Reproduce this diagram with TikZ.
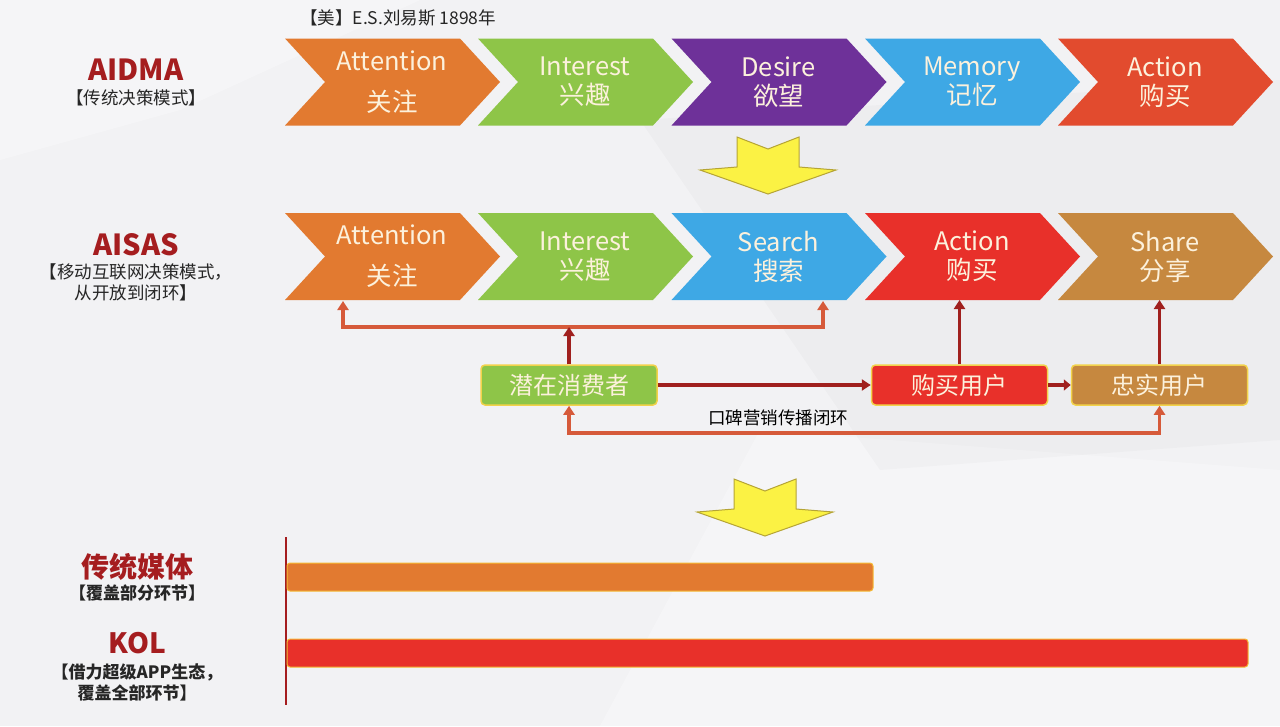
\documentclass[tikz,border=0pt]{standalone}
\usepackage{fontspec}
\setmainfont{Noto Sans CJK SC}
\usetikzlibrary{arrows.meta}
\definecolor{bg}{HTML}{F2F2F4}
\definecolor{corange}{HTML}{E27A30}
\definecolor{cgreen}{HTML}{8EC548}
\definecolor{cpurple}{HTML}{6E3199}
\definecolor{cblue}{HTML}{3EA8E5}
\definecolor{cred1}{HTML}{E24B2E}
\definecolor{cred2}{HTML}{E8302A}
\definecolor{ctan}{HTML}{C6883F}
\definecolor{ctext}{HTML}{FCF1DC}
\definecolor{dred}{HTML}{A51D1F}
\definecolor{lred}{HTML}{D65A3A}
\definecolor{arrred}{HTML}{A0201E}
\definecolor{yfill}{HTML}{FBF244}
\definecolor{yedge}{HTML}{B5A435}
\definecolor{bedge}{HTML}{F2D24A}
\newcommand{\chev}[7]{%
  \fill[#4] (#2,#3) -- ++(175,0) -- ++(40,43.5) -- ++(-40,43.5) -- ++(-175,0) -- ++(40,-43.5) -- cycle;
  \node[chevtext] (#1) at (#2+107,#3+43.5) {#5\\[#7]#6};
  \coordinate (#1-s) at (#2+107,#3+87);
}
\begin{document}
\begin{tikzpicture}[x=1pt,y=-1pt,
  chevtext/.style={text=ctext,align=center,inner sep=0pt,font=\fontsize{25.5}{29}\selectfont},
  title/.style={text=dred,font=\bfseries\fontsize{29}{34}\selectfont,inner sep=0pt},
  sub/.style={text=black!85,font=\fontsize{17.5}{21}\selectfont,align=center,inner sep=0pt},
  subb/.style={text=black!85,font=\bfseries\fontsize{17}{21}\selectfont,align=center,inner sep=0pt},
  ubox/.style={rounded corners=4pt,minimum width=176pt,minimum height=40pt,draw=bedge,line width=1.5pt,text=ctext,font=\fontsize{24}{28}\selectfont,inner sep=0pt},
  lp/.style={draw=lred,line width=3.5pt,arrows={-Triangle[length=9pt,width=11pt]}},
  dp/.style={draw=arrred,line width=3.5pt,arrows={-Triangle[length=9pt,width=11pt]}},
  bigarrow/.style={fill=yfill,draw=yedge,line width=1pt,line join=miter},
  bar/.style={rounded corners=3pt,draw=bedge!70!orange,line width=1pt}
]
\fill[bg] (0,0) rectangle (1280,726);
\useasboundingbox (0,0) rectangle (1280,726);
\fill[white,opacity=0.3] (0,0) -- (420,0) -- (180,110) -- (0,160) -- cycle;
\fill[white,opacity=0.3] (600,726) -- (760,430) -- (1280,470) -- (1280,726) -- cycle;
\fill[black,opacity=0.02] (640,120) -- (1280,80) -- (1280,440) -- (880,470) -- cycle;

% header
\node[sub,anchor=west] (hdr) at (300,18) {【美】E.S.刘易斯 1898年};

% AIDMA
\node[title] (aidma) at (136,70) {AIDMA};
\node[sub] (aidmasub) at (136,98) {【传统决策模式】};
\chev{m1}{285}{38.5}{corange}{Attention}{关注}{12pt}
\chev{m2}{478}{38.5}{cgreen}{Interest}{兴趣}{0pt}
\chev{m3}{671.5}{38.5}{cpurple}{Desire}{欲望}{0pt}
\chev{m4}{865}{38.5}{cblue}{Memory}{记忆}{0pt}
\chev{m5}{1058}{38.5}{cred1}{Action}{购买}{0pt}

% yellow arrow 1
\filldraw[bigarrow] (737,137) -- (768,149) -- (799,137) -- (799,167) -- (836,170) -- (768,194) -- (700,170) -- (737,167) -- cycle;

% AISAS
\node[title] (aisas) at (136,245) {AISAS};
\node[sub] (aisassub) at (136,282) {【移动互联网决策模式，\\从开放到闭环】};
\chev{s1}{285}{213}{corange}{Attention}{关注}{12pt}
\chev{s2}{478}{213}{cgreen}{Interest}{兴趣}{0pt}
\chev{s3}{671.5}{213}{cblue}{Search}{搜索}{0pt}
\chev{s4}{865}{213}{cred2}{Action}{购买}{0pt}
\chev{s5}{1058}{213}{ctan}{Share}{分享}{0pt}

% user boxes
\node[ubox,fill=cgreen] (p1) at (569,385) {潜在消费者};
\node[ubox,fill=cred2] (p2) at (959.5,385) {购买用户};
\node[ubox,fill=ctan] (p3) at (1159.5,385) {忠实用户};

% top loop
\coordinate (L1) at (343,327);
\coordinate (L2) at (823,327);
\coordinate (T1) at (343,301);
\coordinate (T2) at (823,301);
\draw[lp,arrows={Triangle[length=9pt,width=11pt]-Triangle[length=9pt,width=11pt]}] (T1) -- (L1) -- (L2) -- (T2);
\draw[dp] (p1.north) -- (p1.north |- L1);
\draw[dp] (p1.east) -- (p2.west);
\draw[dp,arrows={-Triangle[length=7pt,width=11pt]}] (p2.east) -- (p3.west);
\draw[dp] (p2.north) -- (p2.north |- s4-s);
\draw[dp] (p3.north) -- (p3.north |- s5-s);

% bottom loop
\coordinate (B1) at (569,433);
\draw[lp,arrows={Triangle[length=9pt,width=11pt]-Triangle[length=9pt,width=11pt]}] (p1.south) -- (p1.south |- B1) -- (p3.south |- B1) -- (p3.south);
\node[sub,text=black] (loop) at (778,418) {口碑营销传播闭环};

% yellow arrow 2
\filldraw[bigarrow] (734,479) -- (765,491) -- (796,479) -- (796,509) -- (833,512) -- (765,536) -- (697,512) -- (734,509) -- cycle;

% media comparison
\draw[dred,line width=1.5pt] (286,537) -- (286,705);
\node[title,font=\bfseries\fontsize{28}{32}\selectfont] (trad) at (137,567) {传统媒体};
\node[subb] (tradsub) at (137,593) {【覆盖部分环节】};
\node[title,font=\bfseries\fontsize{28}{32}\selectfont] (kol) at (137,643) {KOL};
\node[subb] (kolsub) at (137,682) {【借力超级APP生态，\\覆盖全部环节】};
\filldraw[bar,fill=corange] (287,563) rectangle (873,591);
\filldraw[bar,fill=cred2] (287,639) rectangle (1248,667);
\end{tikzpicture}
\end{document}
